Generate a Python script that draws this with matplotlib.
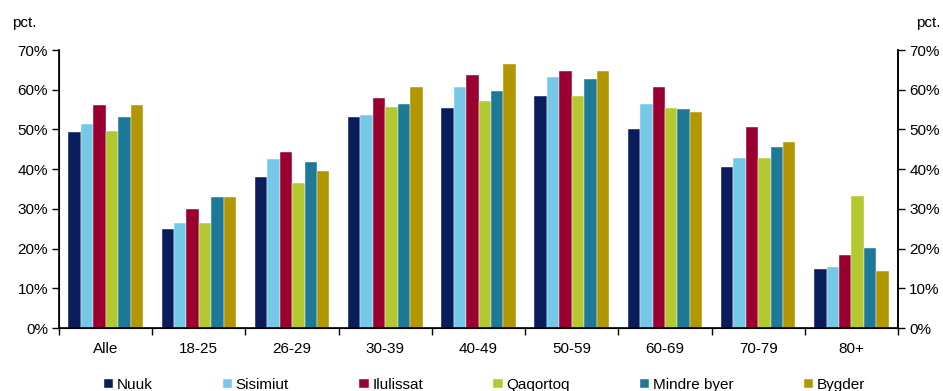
import numpy as np
import matplotlib
matplotlib.use("Agg")
import matplotlib.pyplot as plt
from matplotlib.ticker import MultipleLocator, FuncFormatter, FixedLocator

plt.rcParams['font.family'] = ['Liberation Sans', 'DejaVu Sans']

categories = ["Alle", "18-25", "26-29", "30-39", "40-49", "50-59", "60-69", "70-79", "80+"]

nuuk        = [49.3, 24.9, 37.9, 53.1, 55.4, 58.4, 50.0, 40.5, 14.9]
sisimiut    = [51.3, 26.4, 42.5, 53.6, 60.8, 63.1, 56.3, 42.7, 15.4]
ilulissat   = [56.1, 30.0, 44.2, 57.9, 63.6, 64.6, 60.6, 50.6, 18.5]
qaqortoq    = [49.5, 26.4, 36.5, 55.6, 57.2, 58.3, 55.3, 42.7, 33.2]
mindre_byer = [53.1, 33.1, 41.8, 56.3, 59.7, 62.6, 55.1, 45.5, 20.1]
bygder      = [56.1, 33.0, 39.5, 60.8, 66.4, 64.6, 54.5, 46.8, 14.3]

series_names = ["Nuuk", "Sisimiut", "Ilulissat", "Qaqortoq", "Mindre byer", "Bygder"]
series_values = [nuuk, sisimiut, ilulissat, qaqortoq, mindre_byer, bygder]
colors = ["#0a1d5a", "#76c9e6", "#990030", "#b4c832", "#1e7898", "#b39700"]

fig = plt.figure(figsize=(9.43, 3.91), dpi=100)
ax = fig.add_axes([0.0626, 0.1611, 0.8897, 0.7110])

n = len(series_names)
x = np.arange(len(categories))
group_w = 0.80
bw = group_w / n
for i, (name, vals, c) in enumerate(zip(series_names, series_values, colors)):
    offs = -group_w / 2 + bw * (i + 0.5)
    ax.bar(x + offs, vals, width=bw, color=c, label=name,
           edgecolor="#ffffff", linewidth=0.3)

ax.set_xlim(-0.5, len(categories) - 0.5)
ax.set_ylim(0, 70)
ax.yaxis.set_major_locator(MultipleLocator(10))
pct = FuncFormatter(lambda v, p: f"{v:.0f}%")
ax.yaxis.set_major_formatter(pct)

ax.set_xticks(x)
ax.set_xticklabels(categories)
ax.xaxis.set_minor_locator(FixedLocator(np.arange(-0.5, len(categories), 1.0)))
ax.tick_params(axis="x", which="major", length=0, pad=10, labelsize=11)
ax.tick_params(axis="x", which="minor", length=5, width=1, direction="out")
ax.tick_params(axis="y", which="major", length=5, width=1, direction="out",
               labelsize=11, pad=3)

ax.spines["top"].set_visible(False)
for s in ["left", "bottom", "right"]:
    ax.spines[s].set_linewidth(1.2)
    ax.spines[s].set_color("black")

ax2 = ax.twinx()
ax2.set_ylim(0, 70)
ax2.yaxis.set_major_locator(MultipleLocator(10))
ax2.yaxis.set_major_formatter(pct)
ax2.tick_params(axis="y", which="major", length=5, width=1, direction="out",
                labelsize=11, pad=3)
ax2.spines["top"].set_visible(False)
ax2.spines["right"].set_linewidth(1.2)

fig.text(0.013, 0.94, "pct.", fontsize=11, ha="left", va="center")
fig.text(0.971, 0.94, "pct.", fontsize=11, ha="left", va="center")

leg = fig.legend(loc="center left", bbox_to_anchor=(0.110, 0.016), ncol=n,
                 frameon=False, fontsize=11, handlelength=0.6, handleheight=0.6,
                 handletextpad=0.25, columnspacing=4.6, borderaxespad=0,
                 borderpad=0)

fig.savefig("out.png", dpi=100)
